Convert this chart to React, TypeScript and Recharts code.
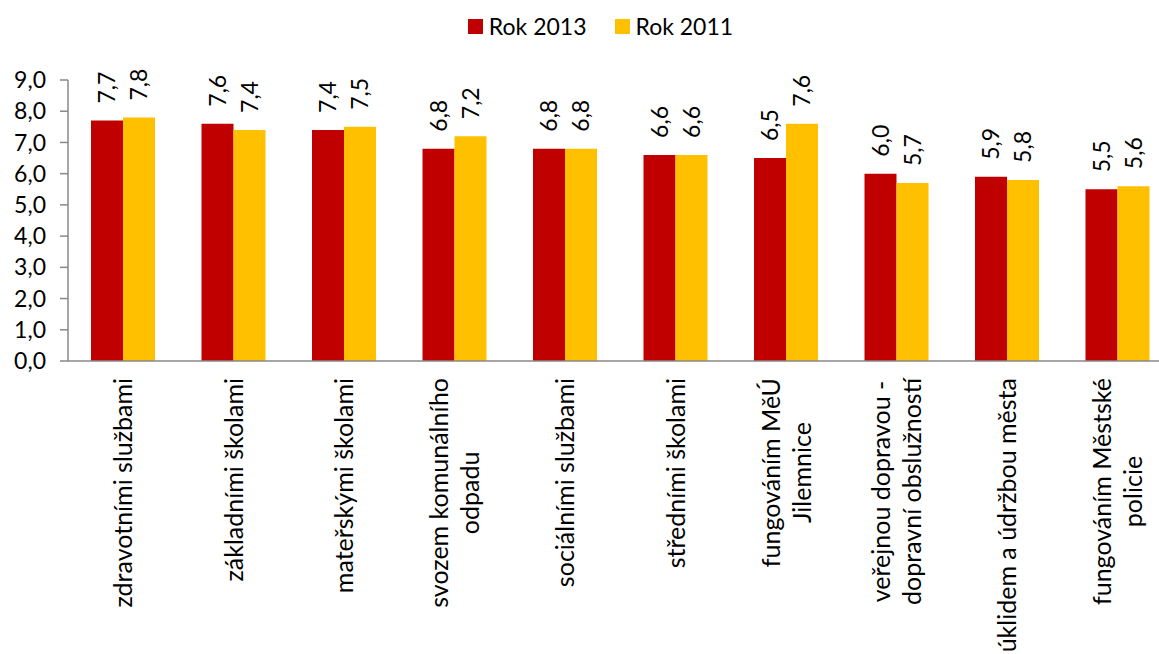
import React from 'react';
import { BarChart, Bar, XAxis, YAxis, LabelList } from 'recharts';

const categories = [
  'zdravotními službami',
  'základními školami',
  'mateřskými školami',
  'svozem komunálního\nodpadu',
  'sociálními službami',
  'středními školami',
  'fungováním MěÚ\nJilemnice',
  'veřejnou dopravou -\ndopravní obslužností',
  'úklidem a údržbou města',
  'fungováním Městské\npolicie',
];
const rok2013 = [7.7, 7.6, 7.4, 6.8, 6.8, 6.6, 6.5, 6.0, 5.9, 5.5];
const rok2011 = [7.8, 7.4, 7.5, 7.2, 6.8, 6.6, 7.6, 5.7, 5.8, 5.6];
const yTicks = [0, 1, 2, 3, 4, 5, 6, 7, 8, 9];
const seriesNames = ['Rok 2013', 'Rok 2011'];
const seriesColors = ['#C00000', '#FFC000'];

const data = categories.map((name, i) => ({ name, r2013: rok2013[i], r2011: rok2011[i] }));

const FONT = 'Lato, Carlito, Calibri, sans-serif';
const FS = 23;
const FSX = 25;
const fmt = (v: number) => Number(v).toFixed(1).replace('.', ',');

let ctx: CanvasRenderingContext2D | null = null;
function measure(t: string, size: number) {
  if (!ctx) ctx = document.createElement('canvas').getContext('2d');
  if (!ctx) return t.length * size * 0.5;
  ctx.font = `${size}px Lato`;
  return ctx.measureText(t).width;
}

function XTick(props: any) {
  const { x, y, payload } = props;
  const lines = String(payload.value).split('\n');
  const maxW = Math.max(...lines.map((l) => measure(l, FSX)));
  const lh = 31;
  return (
    <g transform={`translate(${x},${y + 17}) rotate(-90)`}>
      {lines.map((l, i) => (
        <text
          key={i}
          x={-maxW / 2}
          y={(i - (lines.length - 1) / 2) * lh}
          dy="0.35em"
          textAnchor="middle"
          fontSize={FSX}
          fontFamily={FONT}
          fill="#000"
        >
          {l}
        </text>
      ))}
    </g>
  );
}

function ValueLabel(props: any) {
  const { x, y, width, value } = props;
  const cx = x + width / 2;
  const ty = y - 17;
  return (
    <text
      transform={`translate(${cx},${ty}) rotate(-90)`}
      textAnchor="start"
      dy="0.35em"
      fontSize={FS}
      fontFamily={FONT}
      fill="#000"
    >
      {fmt(value)}
    </text>
  );
}

export default function App() {
  return (
    <div style={{ position: 'absolute', left: 0, top: 0, width: 1159, height: 654, overflow: 'hidden', background: '#fff', fontFamily: FONT }}>
      <div
        style={{
          position: 'absolute',
          top: 12,
          left: 0,
          width: 1159,
          display: 'flex',
          justifyContent: 'center',
          alignItems: 'center',
          fontSize: FS,
          color: '#000',
          paddingLeft: 42,
          boxSizing: 'border-box',
        }}
      >
        {seriesNames.map((n, i) => (
          <div key={n} style={{ display: 'flex', alignItems: 'center', marginRight: i === 0 ? 28 : 0 }}>
            <span style={{ width: 15, height: 15, background: seriesColors[i], display: 'inline-block', marginRight: 6 }} />
            <span style={{ lineHeight: '28px' }}>{n}</span>
          </div>
        ))}
      </div>
      <BarChart
        width={1173}
        height={654}
        data={data}
        margin={{ top: 80, right: 0, left: 0, bottom: 0 }}
        barGap={0}
        style={{ position: 'absolute', left: 0, top: 0 }}
      >
        <YAxis
          width={68}
          domain={[0, 9]}
          ticks={yTicks}
          interval={0}
          tickFormatter={fmt}
          tickSize={8}
          tickMargin={14}
          axisLine={{ stroke: '#898989', strokeWidth: 1.5 }}
          tickLine={{ stroke: '#898989', strokeWidth: 1.5 }}
          tick={{ fontSize: FS, fontFamily: FONT, fill: '#000' }}
        />
        <XAxis
          dataKey="name"
          height={293}
          interval={0}
          tickSize={0}
          tickMargin={0}
          tickLine={false}
          axisLine={{ stroke: '#898989', strokeWidth: 1.5 }}
          tick={<XTick />}
        />
        <Bar dataKey="r2013" name={seriesNames[0]} fill={seriesColors[0]} barSize={32} isAnimationActive={false}>
          <LabelList dataKey="r2013" content={<ValueLabel />} />
        </Bar>
        <Bar dataKey="r2011" name={seriesNames[1]} fill={seriesColors[1]} barSize={32} isAnimationActive={false}>
          <LabelList dataKey="r2011" content={<ValueLabel />} />
        </Bar>
      </BarChart>
    </div>
  );
}
